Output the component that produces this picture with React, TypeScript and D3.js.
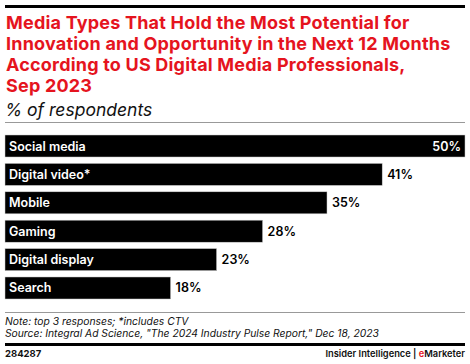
import React from "react";
import * as d3 from "d3";

const categories = ["Social media", "Digital video*", "Mobile", "Gaming", "Digital display", "Search"];
const values = [50, 41, 35, 28, 23, 18];
const titleLines = [
  "Media Types That Hold the Most Potential for",
  "Innovation and Opportunity in the Next 12 Months",
  "According to US Digital Media Professionals,",
  "Sep 2023",
];
const subtitle = "% of respondents";
const notes = [
  "Note: top 3 responses; *includes CTV",
  "Source: Integral Ad Science, \"The 2024 Industry Pulse Report,\" Dec 18, 2023",
];
const chartId = "284287";

export default function App() {
  const W = 470, H = 364;
  const left = 5, right = 465;
  const x = d3.scaleLinear().domain([0, 50]).range([left, right]);
  const y = d3.scaleBand<string>().domain(categories).range([135, 299]).paddingInner(0.225).paddingOuter(0);
  const font = "Inter, 'Noto Sans', sans-serif";
  return (
    <svg width={W} height={H} style={{ position: "absolute", left: 0, top: 0 }} fontFamily={font}>
      <rect x={0} y={0} width={W} height={H} fill="#fff" />
      <rect x={left} y={5} width={right - left} height={3} fill="#000" />
      {titleLines.map((t, i) => (
        <text key={i} x={6} y={29 + i * 21} fontSize={18} fontWeight={700} fill="#e5141e" letterSpacing={0.2}>
          {t}
        </text>
      ))}
      <text x={5} y={116} fontSize={17.5} fontStyle="italic" fill="#111">{subtitle}</text>
      <rect x={left} y={122} width={right - left} height={1} fill="#999" />
      {categories.map((c, i) => {
        const v = values[i];
        const yy = y(c)!;
        const bw = y.bandwidth();
        const xe = x(v);
        const inside = i === 0;
        return (
          <g key={c}>
            <rect x={x(0)} y={yy} width={xe - x(0)} height={bw} fill="#000" stroke="#ccc" strokeWidth={0.5} />
            <text x={9} y={yy + bw / 2 + 4.5} fontSize={12.5} fontWeight={600} fill="#fff">{c}</text>
            <text
              x={inside ? xe - 4 : xe + 5}
              y={yy + bw / 2 + 4.5}
              fontSize={12.5}
              fontWeight={600}
              fill={inside ? "#fff" : "#000"}
              textAnchor={inside ? "end" : "start"}
            >
              {v}%
            </text>
          </g>
        );
      })}
      <rect x={left} y={312} width={right - left} height={1} fill="#999" />
      {notes.map((n, i) => (
        <text key={i} x={5} y={325 + i * 11.5} fontSize={10.3} fontStyle="italic" fill="#111">{n}</text>
      ))}
      <rect x={left} y={343} width={right - left} height={3} fill="#000" />
      <text x={5} y={357} fontSize={9.5} fontWeight={700} fill="#111">{chartId}</text>
      <text x={465} y={357} fontSize={9.3} fontWeight={600} fill="#111" textAnchor="end">
        Insider Intelligence | <tspan fill="#e5141e">e</tspan>Marketer
      </text>
    </svg>
  );
}
